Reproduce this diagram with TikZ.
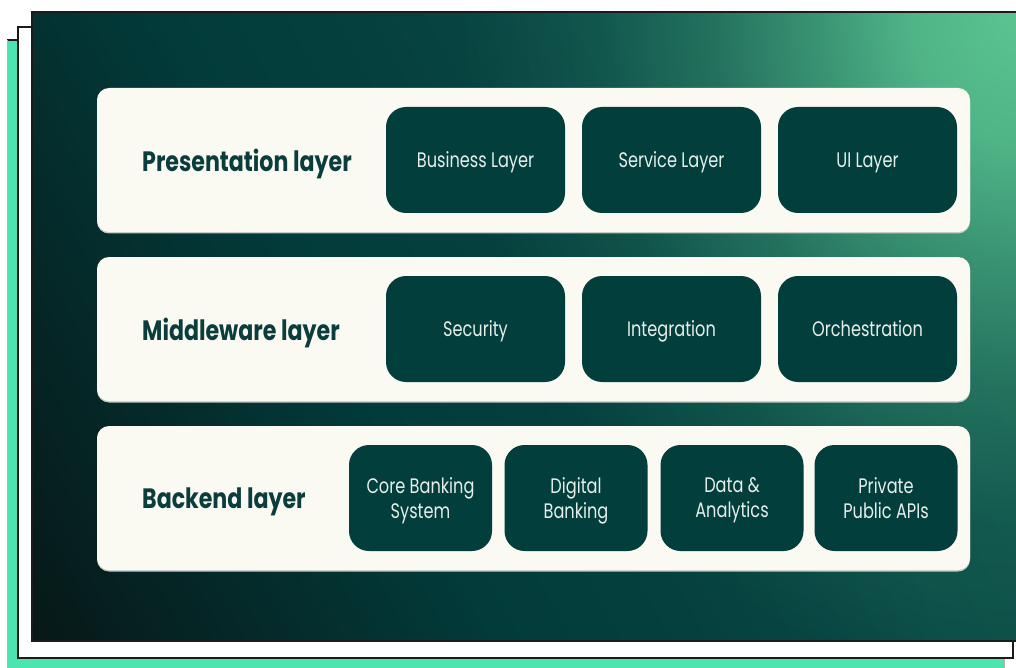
\documentclass[tikz,border=0pt]{standalone}
\usepackage{fontspec}
\usetikzlibrary{fadings}
\setmainfont{Poppins}
\newfontfamily\labfont[FakeStretch=0.79]{Poppins}
\newfontfamily\boxfont[FakeStretch=0.77]{Poppins}
\definecolor{sA}{HTML}{071818}
\definecolor{sB}{HTML}{023B3A}
\definecolor{sC}{HTML}{05403E}
\definecolor{sD}{HTML}{0B4C47}
\definecolor{sE}{HTML}{0E524A}
\definecolor{sG}{HTML}{5BC592}
\definecolor{mint}{HTML}{4BE5B0}
\definecolor{edge}{HTML}{1B1B1B}
\definecolor{cream}{HTML}{FAF9F2}
\definecolor{boxfill}{HTML}{023E3C}
\definecolor{boxtext}{HTML}{E6EEEA}
\definecolor{labtext}{HTML}{0A3D3B}
\definecolor{panshadow}{HTML}{C9CCC7}
\pgfdeclarehorizontalshading{bgshade}{100bp}{color(0bp)=(sA); color(16.1bp)=(sA); color(39.8bp)=(sB); color(50bp)=(sC); color(63.5bp)=(sD); color(83.8bp)=(sE); color(100bp)=(sE)}
\pgfdeclareradialshading{glowmask}{\pgfpointorigin}{color(0bp)=(white); color(5bp)=(white!85!black); color(8.75bp)=(white!60!black); color(13.75bp)=(white!30!black); color(18.75bp)=(white!10!black); color(25bp)=(black); color(50bp)=(black)}
\pgfdeclarefading{glow}{\pgfuseshading{glowmask}}
\tikzset{
  panel/.style={fill=cream, rounded corners=12pt, inner sep=0pt, minimum width=873pt, minimum height=144pt},
  tile/.style={fill=boxfill, rounded corners=20pt, inner sep=0pt, minimum height=106pt, text=boxtext, align=center, text depth=0pt, font=\boxfont\fontsize{21}{25}\selectfont},
  wtile/.style={tile, minimum width=179pt},
  ntile/.style={tile, minimum width=143pt},
  laylabel/.style={anchor=west, inner sep=0pt, text=labtext, text depth=0pt, font=\labfont\bfseries\fontsize{28}{30}\selectfont},
}
\begin{document}
\begin{tikzpicture}[x=1pt,y=-1pt]
\useasboundingbox (0,0) rectangle (1016,668);
\clip (0,0) rectangle (1016,668);
% back cards
\fill[mint] (7,40) rectangle (1004,680);
\draw[edge, line width=2pt] (7,40) -- (1004,40);
\draw[gray!60, line width=0.6pt] (7,40) -- (7,680) (1004,40) -- (1004,680);
\draw[edge, line width=2pt, fill=white] (18,27) rectangle (1013,658);
\shade[shading=bgshade, shading angle=28.3] (32,12) rectangle (1022,641);
\begin{scope}
  \clip (32,12) rectangle (1022,641);
  \fill[sG, path fading=glow] (1020,12) ellipse [x radius=560, y radius=680];
\end{scope}
\draw[edge, line width=2pt] (1022,12) -- (32,12) -- (32,641) -- (1022,641);
% panels
\foreach \py in {160,329,498}{
  \fill[panshadow, rounded corners=12pt] (97,\py-72+1.5) rectangle (970,\py+72+1.5);
}
\node[panel] (p1) at (533.5,160) {};
\node[panel] (p2) at (533.5,329) {};
\node[panel] (p3) at (533.5,498) {};
% labels
\node[laylabel] (l1) at (142,160) {Presentation layer};
\node[laylabel] (l2) at (142,329) {Middleware layer};
\node[laylabel] (l3) at (142,498) {Backend layer};
% row 1
\node[wtile] (b11) at (475.5,160) {Business Layer};
\node[wtile] (b12) at (671.5,160) {Service Layer};
\node[wtile] (b13) at (867.5,160) {UI Layer};
% row 2
\node[wtile] (b21) at (475.5,329) {Security};
\node[wtile] (b22) at (671.5,329) {Integration};
\node[wtile] (b23) at (867.5,329) {Orchestration};
% row 3
\node[ntile] (b31) at (420.5,498) {Core Banking\\System};
\node[ntile] (b32) at (576,498) {Digital\\Banking};
\node[ntile] (b33) at (732,498) {Data \&\\Analytics};
\node[ntile] (b34) at (886,498) {Private\\Public APIs};
\end{tikzpicture}
\end{document}
